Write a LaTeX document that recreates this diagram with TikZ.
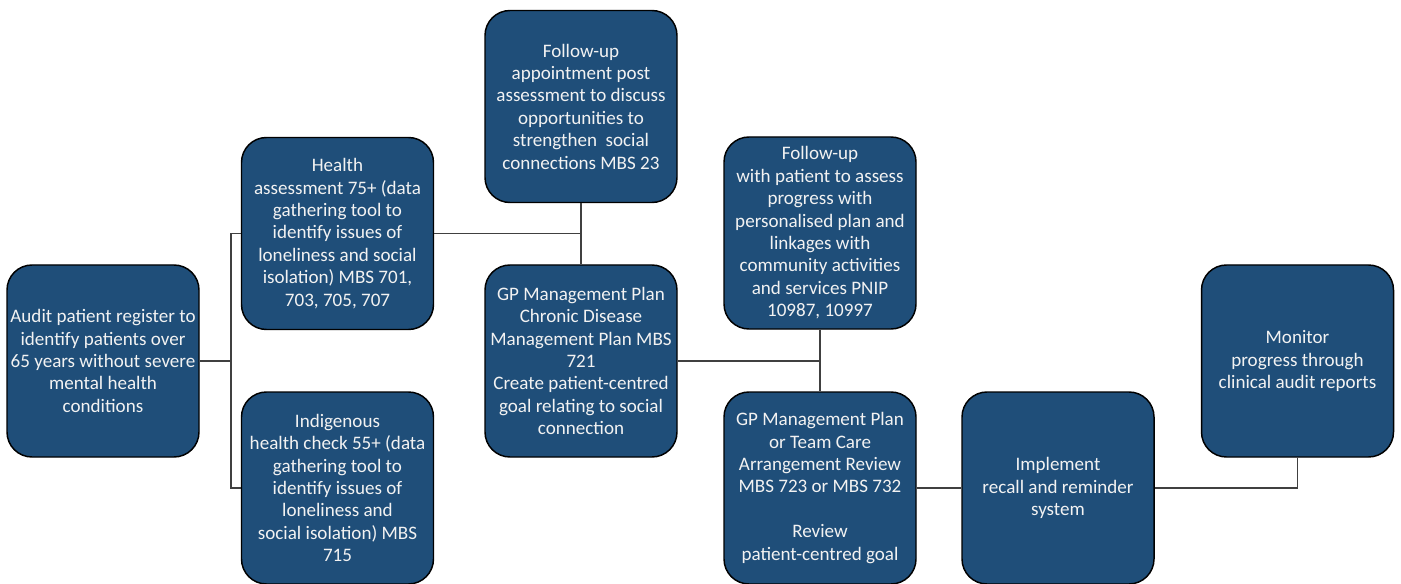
\documentclass[tikz,border=0pt]{standalone}
\usepackage{fontspec}
\setmainfont{Carlito}
\definecolor{boxblue}{HTML}{1F4E79}
\definecolor{txtcol}{HTML}{F2F2F2}
\definecolor{linecol}{HTML}{404040}
\begin{document}
\begin{tikzpicture}[x=0.75pt,y=-0.75pt,
  stepbox/.style={draw=black, line width=1.1pt, fill=boxblue, text=txtcol,
    rounded corners=18.75pt, minimum width=144pt, minimum height=144pt,
    align=center, inner sep=2pt, font=\fontsize{14.3}{16.8}\selectfont},
  link/.style={draw=linecol, line width=1.1pt}]
\useasboundingbox (0,0) rectangle (1401,584);
\fill[white] (0,0) rectangle (1401,584);
\node[stepbox] (audit) at (103,361) {Audit patient register to\\identify patients over\\65 years without severe\\mental health\\conditions};
\node[stepbox] (health) at (337.5,233.5) {Health\\assessment 75+ (data\\gathering tool to\\identify issues of\\loneliness and social\\isolation) MBS 701,\\703, 705, 707};
\node[stepbox] (indig) at (337.5,488) {Indigenous\\health check 55+ (data\\gathering tool to\\identify issues of\\loneliness and\\social isolation) MBS\\715};
\node[stepbox] (fu) at (581,106.5) {Follow-up\\appointment post\\assessment to discuss\\opportunities to\\strengthen\ \ social\\connections MBS 23};
\node[stepbox] (gp) at (581,361) {GP Management Plan\\Chronic Disease\\Management Plan MBS\\721\\Create patient-centred\\goal relating to social\\connection};
\node[stepbox] (fup) at (820,233) {Follow-up\\with patient to assess\\progress with\\personalised plan and\\linkages with\\community activities\\and services PNIP\\10987, 10997};
\node[stepbox] (rev) at (820,488) {GP Management Plan\\or Team Care\\Arrangement Review\\MBS 723 or MBS 732\\[16.8pt]Review\\patient-centred goal};
\node[stepbox] (impl) at (1058,488) {Implement\\recall and reminder\\system};
\node[stepbox] (mon) at (1297.5,361) {Monitor\\progress through\\clinical audit reports};
\coordinate (j1) at (231,361);
\draw[link] (audit.east) -- (j1);
\draw[link] (health.west) -| (j1);
\draw[link] (indig.west) -| (j1);
\draw[link] (fu.south) -- (gp.north);
\draw[link] (health.east) -- (health.east -| fu.south);
\draw[link] (fup.south) -- (rev.north);
\draw[link] (gp.east) -- (gp.east -| fup.south);
\draw[link] (rev.east) -- (impl.west);
\draw[link] (impl.east) -| (mon.south);
\end{tikzpicture}
\end{document}
